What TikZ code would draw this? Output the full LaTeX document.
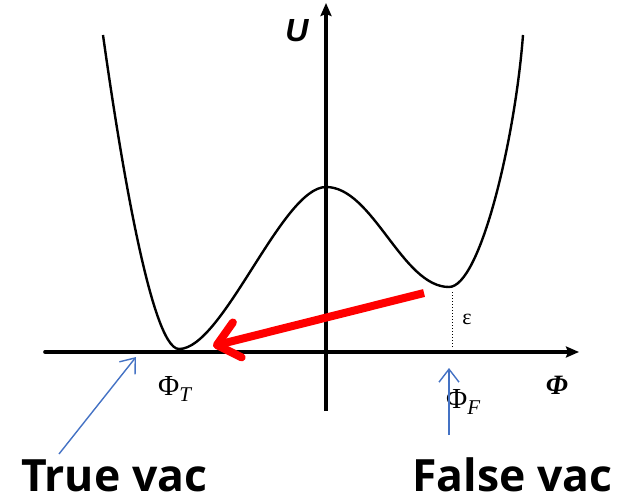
\documentclass[tikz,border=0pt]{standalone}
\usepackage{fontspec}
\newfontfamily\vacfont{Open Sans}
\newfontfamily\arialfont{Liberation Sans}
\newfontfamily\timesfont{Liberation Serif}
\usetikzlibrary{arrows.meta}
\definecolor{arrblue}{RGB}{68,114,196}
\definecolor{arrred}{RGB}{255,0,0}
\newcommand{\phisub}[1]{{\fontsize{29}{32}\selectfont\timesfont Φ}\raisebox{-6pt}{\fontsize{21}{24}\selectfont\timesfont\itshape #1}}
\tikzset{
  axisline/.style={line width=3.6pt, line cap=round, -{Stealth[length=13pt,width=11pt,inset=2pt]}},
  potential/.style={line width=2.4pt, black},
  bluearr/.style={arrblue, line width=1.4pt, -{Straight Barb[length=13pt,width=20pt]}},
  redarr/.style={arrred, line width=8pt, -{Straight Barb[round,length=21pt,width=36pt]}},
  biglabel/.style={inner sep=0pt, text depth=0pt, font=\fontsize{44.5}{48}\selectfont\vacfont\bfseries},
  mathlabel/.style={inner sep=0pt}
}
\begin{document}
\begin{tikzpicture}[x=1pt,y=-1pt]
\useasboundingbox (0,0) rectangle (621,497);
% axes
\coordinate (xstart) at (45,352);
\coordinate (xend) at (579,352);
\coordinate (ystart) at (326,411);
\coordinate (yend) at (326,3);
\draw[axisline] (xstart) -- (xend);
\draw[axisline, line width=3.2pt, line cap=butt] (ystart) -- (yend);
% potential curve
\draw[potential] (103,35) .. controls (117,135) and (150,349) .. (179,349)
  .. controls (223,349) and (282,187) .. (326,187)
  .. controls (373,187) and (402,287) .. (449,287)
  .. controls (480,287) and (515,140) .. (523,35);
% epsilon gap
\coordinate (fmin) at (452,292);
\coordinate (faxis) at (452,347);
\draw[dotted, line width=1pt] (fmin) -- (faxis);
\node[inner sep=0pt, font=\fontsize{22}{24}\selectfont\timesfont] (eps) at (467,319) {ε};
% labels
\node[inner sep=0pt, font=\fontsize{32}{34}\selectfont\arialfont\bfseries\itshape] (ulabel) at (297,31) {U};
\node[inner sep=0pt, font=\fontsize{28}{30}\selectfont\timesfont\bfseries\itshape] (philabel) at (557,385) {Φ};
\node[mathlabel, anchor=base west] (phiT) at (158,395) {\phisub{T}};
\node[mathlabel, anchor=base west] (phiF) at (446,408) {\phisub{F}};
\node[biglabel, anchor=base west] (truevac) at (21,491) {True vac};
\node[biglabel, anchor=base west] (falsevac) at (412,491) {False vac};
% red tunnelling arrow
\coordinate (rstart) at (424,293);
\coordinate (rend) at (213,346);
\draw[redarr] (rstart) -- (rend);
% blue pointer arrows
\coordinate (tvtail) at (59,454);
\coordinate (tvtip) at (136,357);
\draw[bluearr] (tvtail) -- (tvtip);
\coordinate (fvtail) at (449,435);
\coordinate (fvtip) at (449,368);
\draw[bluearr] (fvtail) -- (fvtip);
\end{tikzpicture}
\end{document}
